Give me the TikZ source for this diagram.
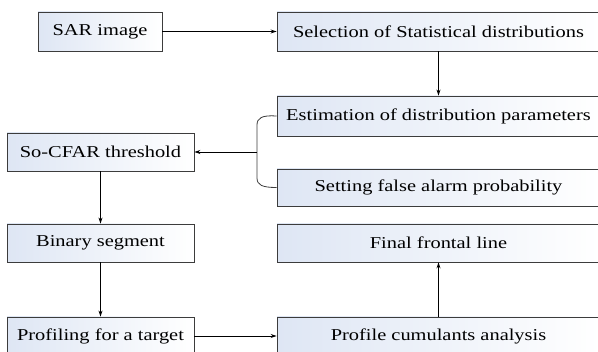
\documentclass[tikz,border=0pt]{standalone}
\usepackage{fontspec}
\setmainfont{Liberation Serif}[FakeStretch=1.23]
\usetikzlibrary{arrows.meta}
\definecolor{boxleft}{RGB}{222,230,244}
\definecolor{boxline}{RGB}{60,60,60}
\tikzset{
  box/.style={draw=boxline, line width=0.9pt, left color=boxleft, right color=white, inner sep=0pt, font=\fontsize{16.6}{18}\selectfont},
  conn/.style={draw=black, line width=0.9pt, -{Stealth[length=6pt,width=4pt]}},
  brace/.style={draw=boxline, line width=0.8pt}
}
\begin{document}
\begin{tikzpicture}[x=1pt,y=-1pt]
\useasboundingbox (0,0) rectangle (598,352);
\clip (0,0) rectangle (598,352);
% left column
\node[box, minimum width=124pt, minimum height=39pt] (sar) at (100,31.5) {SAR image};
\node[box, minimum width=187pt, minimum height=38pt] (cfar) at (100.5,152) {So-CFAR threshold};
\node[box, minimum width=187pt, minimum height=38pt] (bin) at (100.5,243) {Binary segment};
\node[box, minimum width=187pt, minimum height=38pt] (prof) at (100.5,336) {Profiling for a target};
% right column
\node[box, minimum width=323pt, minimum height=39pt] (sel) at (438.5,31.5) {Selection of Statistical distributions};
\node[box, minimum width=323pt, minimum height=40pt] (est) at (438.5,116) {Estimation of distribution parameters};
\node[box, minimum width=323pt, minimum height=37pt] (set) at (438.5,187.5) {Setting false alarm probability};
\node[box, minimum width=323pt, minimum height=38pt] (fin) at (438.5,243) {Final frontal line};
\node[box, minimum width=323pt, minimum height=38pt] (cum) at (438.5,336) {Profile cumulants analysis};
% bracket
\coordinate (bt) at (257,125);
\coordinate (bb) at (257,178);
\coordinate (bm) at (257,152);
\draw[brace] (est.west) .. controls (262,115) and (257,118) .. (bt) -- (bb) .. controls (257,185) and (262,187.5) .. (set.west);
% connectors
\draw[conn] (sar.east) -- (sel.west);
\draw[conn] (sel.south) -- (est.north);
\draw[conn] (bm) -- (cfar.east);
\draw[conn] (cfar.south) -- (bin.north);
\draw[conn] (bin.south) -- (prof.north);
\draw[conn] (prof.east) -- (cum.west);
\draw[conn] (cum.north) -- (fin.south);
\end{tikzpicture}
\end{document}
